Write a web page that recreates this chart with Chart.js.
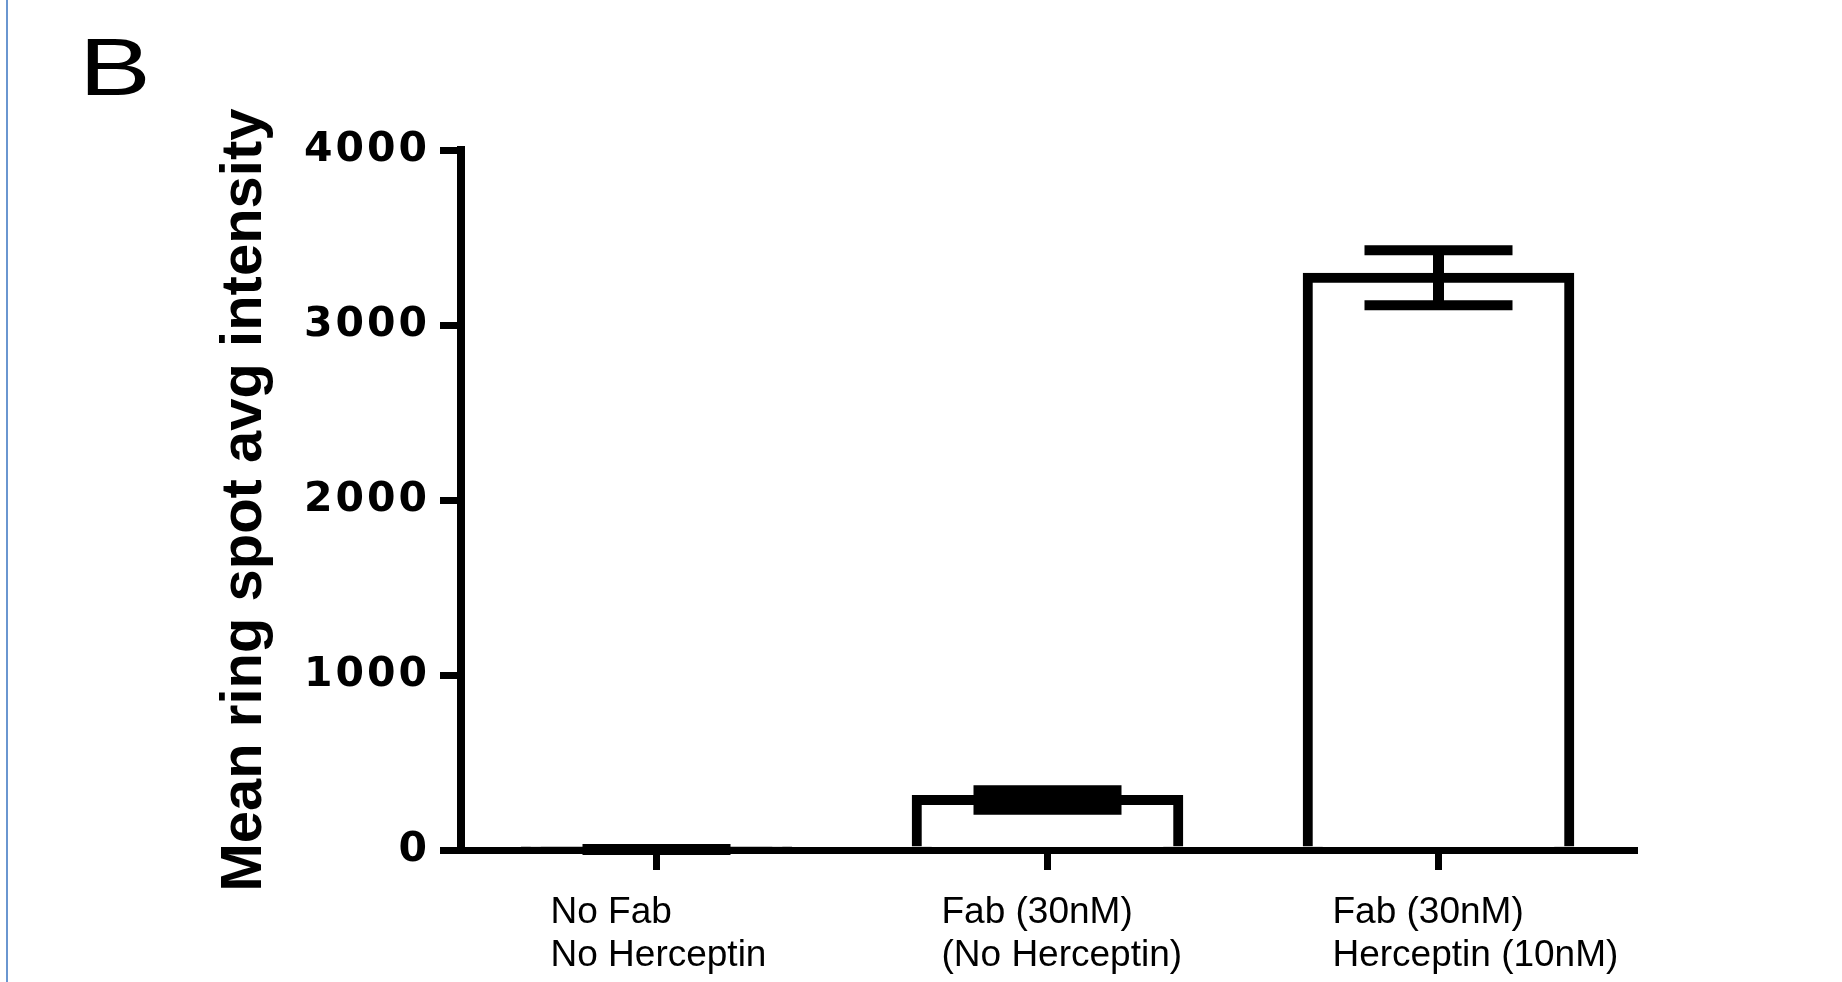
<!DOCTYPE html>
<html>
<head>
<meta charset="utf-8">
<script src="https://cdn.jsdelivr.net/npm/chart.js@4.4.1/dist/chart.umd.min.js"></script>
<style>
  html, body { margin: 0; padding: 0; background: #fff; }
  #wrap { position: relative; width: 1842px; height: 982px; overflow: hidden; }
  #c { position: absolute; left: 0; top: 0; }
  #edge { position: absolute; left: 6px; top: 0; width: 2px; height: 982px; background: #6a96d0; }
  #panel { position: absolute; left: 79px; top: 27px; font: 81px/81px "Liberation Sans", Arial, sans-serif; color: #000; transform: scaleX(1.33); transform-origin: 0 0; }
</style>
</head>
<body>
<div id="wrap">
  <canvas id="c" width="1842" height="982"></canvas>
  <div id="edge"></div>
  <div id="panel">B</div>
</div>
<script>
// ---- data ----
const categories = [
  ['No Fab', 'No Herceptin'],
  ['Fab (30nM)', '(No Herceptin)'],
  ['Fab (30nM)', 'Herceptin (10nM)']
];
const meanValues = [3, 286, 3270];
const errorValues = [3, 56, 157];
const yTickValues = [0, 1000, 2000, 3000, 4000];
const yTickLabels = ['0', '1000', '2000', '3000', '4000'];
const yTitle = 'Mean ring spot avg intensity';

// ---- error bars plugin ----
const errorBars = {
  id: 'errorBars',
  afterDatasetsDraw(chart) {
    const ctx = chart.ctx;
    const meta = chart.getDatasetMeta(0);
    const ys = chart.scales.y;
    ctx.save();
    ctx.strokeStyle = '#000';
    ctx.lineCap = 'butt';
    meta.data.forEach((bar, i) => {
      const x = bar.x;
      const top = ys.getPixelForValue(meanValues[i] + errorValues[i]);
      const bot = ys.getPixelForValue(meanValues[i] - errorValues[i]);
      ctx.lineWidth = 11;
      ctx.beginPath();
      ctx.moveTo(x, top);
      ctx.lineTo(x, bot);
      ctx.stroke();
      ctx.lineWidth = 10;
      const hw = 74;
      ctx.beginPath();
      ctx.moveTo(x - hw, top); ctx.lineTo(x + hw, top);
      ctx.moveTo(x - hw, bot); ctx.lineTo(x + hw, bot);
      ctx.stroke();
    });
    ctx.restore();
  }
};

// letter-spaced y tick labels
const spacedTicks = {
  id: 'spacedTicks',
  beforeDraw(chart) {
    const s = chart.scales.y;
    if (s && !s.__spaced) {
      const orig = s.drawLabels;
      s.drawLabels = function (area) {
        this.ctx.save();
        try { this.ctx.letterSpacing = '3px'; } catch (e) {}
        orig.call(this, area);
        this.ctx.restore();
      };
      s.__spaced = true;
    }
  }
};

new Chart(document.getElementById('c'), {
  type: 'bar',
  data: {
    labels: categories,
    datasets: [{
      data: meanValues,
      backgroundColor: '#ffffff',
      borderColor: '#000000',
      borderWidth: 10,
      inflateAmount: 5,
      barPercentage: 0.669,
      categoryPercentage: 1.0
    }]
  },
  options: {
    responsive: false,
    animation: false,
    devicePixelRatio: 1,
    layout: { padding: { top: 150, right: 208, bottom: 0, left: 0 } },
    plugins: {
      legend: { display: false },
      tooltip: { enabled: false }
    },
    scales: {
      x: {
        type: 'category',
        offset: true,
        grid: {
          offset: false,
          drawOnChartArea: false,
          drawTicks: true,
          tickLength: 20,
          tickWidth: 7,
          lineWidth: 7,
          color: '#000',
          tickColor: '#000'
        },
        border: { display: true, width: 7, color: '#000', z: 1 },
        ticks: {
          align: 'start',
          labelOffset: -106,
          padding: 21,
          maxRotation: 0,
          minRotation: 0,
          autoSkip: false,
          color: '#000',
          font: { family: '"Liberation Sans", Arial, sans-serif', size: 37, lineHeight: 1.175 }
        },
        afterFit(scale) { scale.height = 132; }
      },
      y: {
        min: 0,
        max: 4000,
        afterBuildTicks(scale) { scale.ticks = yTickValues.map(v => ({ value: v })); },
        grid: {
          drawOnChartArea: false,
          drawTicks: true,
          tickLength: 21,
          tickWidth: 7,
          lineWidth: 7,
          color: '#000',
          tickColor: '#000'
        },
        border: { display: true, width: 8, color: '#000', z: 1 },
        ticks: {
          padding: 10,
          color: '#000',
          font: { family: '"DejaVu Sans", sans-serif', size: 41, weight: 'bold' },
          callback: (v, i) => yTickLabels[i]
        },
        title: {
          display: true,
          text: yTitle,
          color: '#000',
          padding: { top: 210, bottom: 0 },
          font: { family: '"Liberation Sans", Arial, sans-serif', size: 58, weight: 'bold', lineHeight: 1.2 }
        },
        afterFit(scale) { scale.width = 461; }
      }
    }
  },
  plugins: [errorBars, spacedTicks]
});
</script>
</body>
</html>
